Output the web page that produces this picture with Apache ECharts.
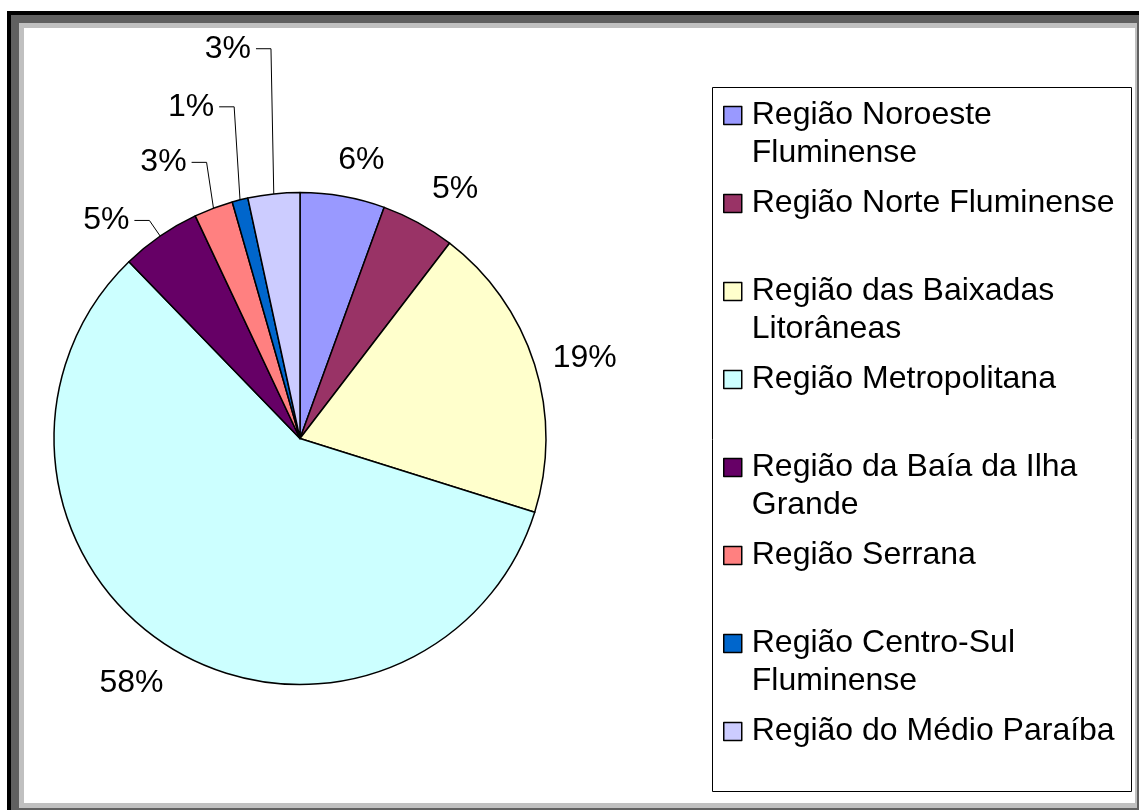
<!DOCTYPE html>
<html><head><meta charset="utf-8">
<script src="https://cdn.jsdelivr.net/npm/echarts@6/dist/echarts.min.js"></script>
<style>html,body{margin:0;padding:0;background:#fff;} #chart{width:1139px;height:810px;}</style>
</head><body><div id="chart"></div>
<script>
// ---- data ----
const categories = ['Região Noroeste Fluminense', 'Região Norte Fluminense', 'Região das Baixadas Litorâneas', 'Região Metropolitana', 'Região da Baía da Ilha Grande', 'Região Serrana', 'Região Centro-Sul Fluminense', 'Região do Médio Paraíba'];
const shares = [5.56, 4.84, 19.44, 57.92, 5.24, 2.56, 1.04, 3.40];
const legendLines = ['Região Noroeste\nFluminense', 'Região Norte Fluminense', 'Região das Baixadas\nLitorâneas', 'Região Metropolitana', 'Região da Baía da Ilha\nGrande', 'Região Serrana', 'Região Centro-Sul\nFluminense', 'Região do Médio Paraíba'];

// ---- styles ----
const colors = ['#9999FF', '#993366', '#FFFFCC', '#CCFFFF', '#660066', '#FF8080', '#0066CC', '#CCCCFF'];
const labelCfg = [
  { line: false, len: 37, len2: 0, dist: -11 },
  { line: false, len: 38, len2: 0, dist: -4.5 },
  { line: false, len: 19, len2: 0, dist: 0 },
  { line: false, len: 42, len2: 0, dist: -14.7 },
  { line: true, len: 19, len2: 15, dist: 5, lean: 1 },
  { line: true, len: 49, len2: 15, dist: 5, lean: 0.4 },
  { line: true, len: 96, len2: 15, dist: 5, lean: 0.25 },
  { line: true, len: 146, len2: 15, dist: 5, lean: 0.18 }
];
const FONT = 'Liberation Sans, Arial, sans-serif';

const chart = echarts.init(document.getElementById('chart'), null, { renderer: 'canvas' });

const data = categories.map((name, i) => ({
  name: name,
  value: shares[i],
  itemStyle: { color: colors[i] },
  label: { distanceToLabelLine: labelCfg[i].dist },
  labelLine: { show: labelCfg[i].line, length: labelCfg[i].len, length2: labelCfg[i].len2 }
}));

chart.setOption({
  animation: false,
  backgroundColor: '#ffffff',
  graphic: [
    { type: 'rect', silent: true, z: 0, shape: { x: 7, y: 11, width: 1140, height: 810 }, style: { fill: '#000000' } },
    { type: 'rect', silent: true, z: 0, shape: { x: 11, y: 15, width: 1140, height: 810 }, style: { fill: '#606060' } },
    { type: 'rect', silent: true, z: 0, shape: { x: 19, y: 23, width: 1118, height: 785 }, style: { fill: '#c0c0c0' } },
    { type: 'rect', silent: true, z: 0, shape: { x: 24, y: 28, width: 1111, height: 775 }, style: { fill: '#ffffff' } },
    { type: 'rect', silent: true, z: 1, shape: { x: 712.5, y: 87.5, width: 419, height: 704 }, style: { fill: '#ffffff', stroke: '#000000', lineWidth: 1 } }
  ],
  legend: {
    orient: 'vertical',
    left: 723,
    top: 58.5,
    padding: 0,
    itemGap: -26,
    itemWidth: 18,
    itemHeight: 18,
    icon: 'rect',
    selectedMode: false,
    data: categories,
    itemStyle: { borderColor: '#000000', borderWidth: 1.5 },
    formatter: function (name) {
      const t = legendLines[categories.indexOf(name)];
      return ' \n' + t + (t.indexOf('\n') >= 0 ? '' : '\n ');
    },
    textStyle: { fontFamily: FONT, fontSize: 32, lineHeight: 38, color: '#000000', padding: [0, 0, 0, 5] }
  },
  series: [{
    type: 'pie',
    center: [300, 438.5],
    radius: 246,
    startAngle: 90,
    clockwise: true,
    avoidLabelOverlap: false,
    emphasis: { disabled: true },
    itemStyle: { borderColor: '#000000', borderWidth: 1.5 },
    label: {
      show: true,
      position: 'outside',
      formatter: function (p) { return Math.round(p.percent) + '%'; },
      fontFamily: FONT,
      fontSize: 32,
      color: '#000000'
    },
    labelLine: { lineStyle: { color: '#000000', width: 1 } },
    labelLayout: function (params) {
      const cfg = labelCfg[params.dataIndex];
      const pts = params.labelLinePoints;
      if (!cfg.line || !pts) return {};
      const e = pts[0], k = pts[1];
      const kx = e[0] + (k[0] - e[0]) * cfg.lean;
      const ex = kx - cfg.len2;
      return {
        x: ex - cfg.dist,
        y: k[1],
        align: 'right',
        verticalAlign: 'middle',
        labelLinePoints: [[e[0], e[1]], [kx, k[1]], [ex, k[1]]]
      };
    },
    data: data
  }]
});
</script>
</body></html>
